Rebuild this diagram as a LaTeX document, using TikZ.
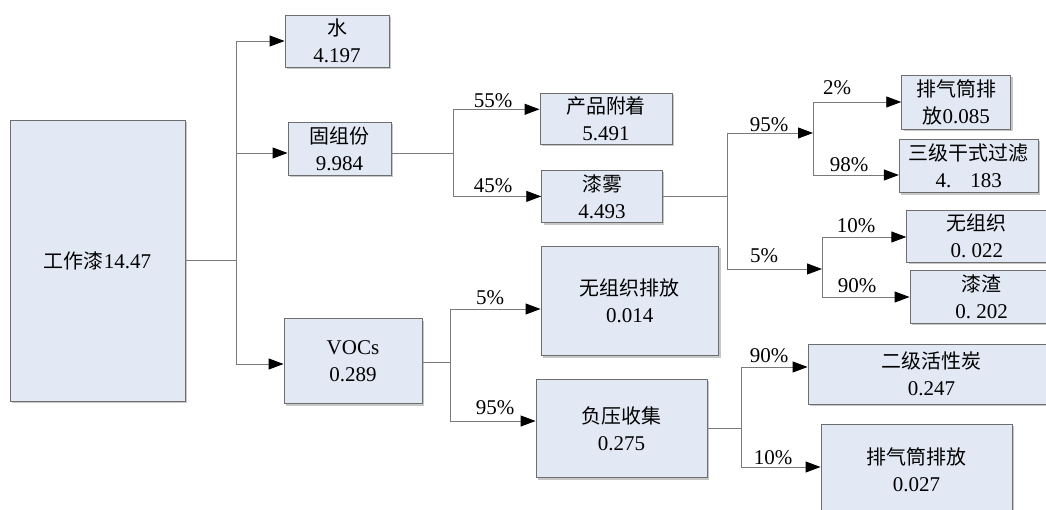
\documentclass[tikz,border=0pt]{standalone}
\usepackage{fontspec}
\setmainfont{Liberation Serif}
\newfontfamily\cjk{Noto Sans CJK SC}[Scale=0.95]
\usetikzlibrary{arrows.meta,shadows}
\definecolor{boxfill}{HTML}{E3E9F4}
\definecolor{boxline}{HTML}{6E6E6E}
\definecolor{wire}{HTML}{7A7A7A}
\tikzset{
  box/.style={draw=boxline, line width=0.9pt, fill=boxfill,
    drop shadow={shadow xshift=2pt, shadow yshift=-2pt, fill=black!22, opacity=1},
    align=center, inner sep=0pt, font=\fontsize{21}{27}\selectfont},
  pct/.style={inner sep=0pt, font=\fontsize{21}{25}\selectfont},
  ln/.style={draw=wire, line width=0.9pt},
  arr/.style={ln, -{Triangle[length=15pt,width=11pt,color=black]}},
}
\begin{document}
\begin{tikzpicture}[x=1pt,y=-1pt]
\useasboundingbox (0,0) rectangle (1046,510);
\clip (0,0) rectangle (1046,510);

% ---------- boxes ----------
\node[box, minimum width=175pt, minimum height=281pt] (paint) at (97.5,260.5) {{\cjk 工作漆}14.47};
\node[box, minimum width=104pt, minimum height=52pt] (water) at (337,41) {{\cjk 水}\\4.197};
\node[box, minimum width=103pt, minimum height=53pt] (solid) at (339.5,148.5) {{\cjk 固组份}\\9.984};
\node[box, minimum width=138pt, minimum height=85pt] (voc) at (353,361.3) {VOCs\\0.289};
\node[box, minimum width=132pt, minimum height=51pt] (product) at (606,118.8) {{\cjk 产品附着}\\5.491};
\node[box, minimum width=120.6pt, minimum height=52.7pt] (mist) at (602,196.4) {{\cjk 漆雾}\\4.493};
\node[box, minimum width=109pt, minimum height=54pt] (ex1) at (956.2,102) {{\cjk 排气筒排}\\{\cjk 放}0.085};
\node[box, minimum width=139pt, minimum height=53.4pt] (filt) at (968.8,166) {{\cjk 三级干式过滤}\\4.\hspace{0.9em}183};
\node[box, minimum width=140.3pt, minimum height=52.3pt] (unorg) at (976.9,236.2) {{\cjk 无组织}\\0.\ 022};
\node[box, minimum width=143pt, minimum height=53.3pt] (slag) at (981.5,296.7) {{\cjk 漆渣}\\0.\ 202};
\node[box, minimum width=177.5pt, minimum height=109.7pt] (fug) at (629.75,300.85) {{\cjk 无组织排放}\\0.014};
\node[box, minimum width=171pt, minimum height=98.5pt] (neg) at (621.5,428.25) {{\cjk 负压收集}\\0.275};
\node[box, minimum width=247pt, minimum height=60pt] (carb) at (931.5,374) {{\cjk 二级活性炭}\\0.247};
\node[box, minimum width=191pt, minimum height=92pt] (ex2) at (916.5,470) {{\cjk 排气筒排放}\\0.027};

% ---------- level 1 ----------
\coordinate (j1) at (236,260.5);
\coordinate (j1t) at (236,41);
\coordinate (j1m) at (236,153);
\coordinate (j1b) at (236,364);
\draw[ln] (paint.east) -- (j1);
\draw[ln] (j1t) -- (j1b);
\draw[arr] (j1t) -- (water.west);
\draw[arr] (j1m) -- (solid.west |- j1m);
\draw[arr] (j1b) -- (voc.west |- j1b);

% ---------- solid branch ----------
\coordinate (j2) at (453,153);
\coordinate (j2t) at (453,109.3);
\coordinate (j2b) at (453,196.4);
\draw[ln] (solid.east |- j2) -- (j2);
\draw[ln] (j2t) -- (j2b);
\draw[arr] (j2t) -- (product.west |- j2t);
\draw[arr] (j2b) -- (mist.west);
\node[pct] (p55) at (493,101) {55\%};
\node[pct] (p45) at (493,186) {45\%};

% ---------- mist branch ----------
\coordinate (j3) at (727,196.4);
\coordinate (j3t) at (727,133);
\coordinate (j3b) at (727,269);
\draw[ln] (mist.east) -- (j3);
\draw[ln] (j3t) -- (j3b);
\coordinate (j4) at (813,133);
\coordinate (j4t) at (813,102);
\coordinate (j4b) at (813,175);
\draw[arr] (j3t) -- (j4);
\draw[ln] (j4t) -- (j4b);
\draw[arr] (j4t) -- (ex1.west |- j4t);
\draw[arr] (j4b) -- (filt.west |- j4b);
\coordinate (j5) at (822,269);
\coordinate (j5t) at (822,237);
\coordinate (j5b) at (822,297);
\draw[arr] (j3b) -- (j5);
\draw[ln] (j5t) -- (j5b);
\draw[arr] (j5t) -- (unorg.west |- j5t);
\draw[arr] (j5b) -- (slag.west |- j5b);
\node[pct] (p95a) at (769,125) {95\%};
\node[pct] (p2) at (837,88) {2\%};
\node[pct] (p98) at (849,165) {98\%};
\node[pct] (p5a) at (764,256) {5\%};
\node[pct] (p10a) at (856,226) {10\%};
\node[pct] (p90a) at (857,286) {90\%};

% ---------- VOCs branch ----------
\coordinate (j6) at (450,362.5);
\coordinate (j6t) at (450,309);
\coordinate (j6b) at (450,421);
\draw[ln] (voc.east |- j6) -- (j6);
\draw[ln] (j6t) -- (j6b);
\draw[arr] (j6t) -- (fug.west |- j6t);
\draw[arr] (j6b) -- (neg.west |- j6b);
\node[pct] (p5b) at (490,298) {5\%};
\node[pct] (p95b) at (495,408) {95\%};

% ---------- negative pressure branch ----------
\coordinate (j7) at (741,428.25);
\coordinate (j7t) at (741,367);
\coordinate (j7b) at (741,467);
\draw[ln] (neg.east) -- (j7);
\draw[ln] (j7t) -- (j7b);
\draw[arr] (j7t) -- (carb.west |- j7t);
\draw[arr] (j7b) -- (ex2.west |- j7b);
\node[pct] (p90b) at (769,356) {90\%};
\node[pct] (p10b) at (773,457.5) {10\%};
\end{tikzpicture}
\end{document}
